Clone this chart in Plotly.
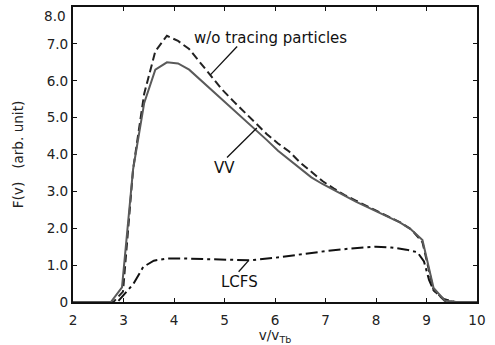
import plotly.graph_objects as go

# VV (solid gray)
vv_x = [2.0, 2.75, 2.97, 3.19, 3.41, 3.63, 3.86, 4.08, 4.30, 4.52, 4.74, 4.96, 5.18, 5.40, 5.62,
        5.84, 6.06, 6.28, 6.50, 6.72, 6.94, 7.16, 7.38, 7.60, 7.82, 8.04, 8.26, 8.48, 8.70,
        8.92, 9.14, 9.36, 9.58, 10.0]
vv_y = [0, 0, 0.40, 3.60, 5.40, 6.30, 6.50, 6.47, 6.30, 6.03, 5.76, 5.48, 5.20, 4.93, 4.66,
        4.39, 4.10, 3.86, 3.61, 3.38, 3.20, 3.04, 2.86, 2.72, 2.58, 2.44, 2.30, 2.15, 1.96,
        1.68, 0.38, 0.04, 0.0, 0.0]

# w/o tracing particles (dashed)
wo_x = [2.0, 2.80, 2.99, 3.19, 3.41, 3.63, 3.86, 4.08, 4.30, 4.52, 4.74, 4.96, 5.18, 5.40, 5.62,
        5.84, 6.06, 6.28, 6.50, 6.72, 6.94, 7.16, 7.38, 7.60, 7.82, 8.04, 8.26, 8.48, 8.70,
        8.92, 9.14, 9.36, 9.58, 10.0]
wo_y = [0, 0, 0.28, 3.60, 5.65, 6.80, 7.22, 7.08, 6.86, 6.48, 6.13, 5.75, 5.44, 5.15, 4.86,
        4.55, 4.30, 4.08, 3.78, 3.52, 3.28, 3.08, 2.90, 2.75, 2.60, 2.45, 2.32, 2.16, 1.97,
        1.62, 0.32, 0.03, 0.0, 0.0]

# LCFS (dash-dot)
lc_x = [2.0, 2.88, 3.20, 3.39, 3.60, 3.86, 4.20, 4.60, 5.00, 5.50, 6.00, 6.50, 7.00, 7.50,
        8.00, 8.30, 8.60, 8.82, 8.95, 9.05, 9.14, 9.34, 9.55, 10.0]
lc_y = [0, 0, 0.50, 0.95, 1.12, 1.18, 1.18, 1.17, 1.15, 1.13, 1.20, 1.30, 1.38, 1.45,
        1.50, 1.48, 1.42, 1.35, 1.10, 0.60, 0.32, 0.08, 0.0, 0.0]

x_ticks = [2, 3, 4, 5, 6, 7, 8, 9, 10]
x_labels = ["2", "3", "4", "5", "6", "7", "8", "9", "10"]
y_ticks = [0, 1, 2, 3, 4, 5, 6, 7, 8]
y_labels = ["0", "1.0", "2.0", "3.0", "4.0", "5.0", "6.0", "7.0", "8.0"]

FONT = "DejaVu Sans"
TICK_FONT = dict(family=FONT, size=13.6, color="#222222")

fig = go.Figure()
fig.add_trace(go.Scatter(x=lc_x, y=lc_y, mode="lines",
                         line=dict(color="#111111", width=2, dash="12px,4px,3px,4px")))
fig.add_trace(go.Scatter(x=wo_x, y=wo_y, mode="lines",
                         line=dict(color="#222222", width=2, dash="8px,4px")))
fig.add_trace(go.Scatter(x=vv_x, y=vv_y, mode="lines",
                         line=dict(color="#5a5a5a", width=2)))

# annotation leader lines
leaders = [
    ((5.25, 6.93), (4.72, 6.16)),
    ((5.05, 3.92), (5.64, 4.72)),
    ((5.28, 0.82), (5.48, 1.13)),
]
for (x0, y0), (x1, y1) in leaders:
    fig.add_shape(type="line", xref="x", yref="y", x0=x0, y0=y0, x1=x1, y1=y1,
                  line=dict(color="#111111", width=1.3))

labels = [("w/o tracing particles", 5.92, 7.17), ("VV", 4.99, 3.63), ("LCFS", 5.29, 0.54)]
for t, x, y in labels:
    fig.add_annotation(text=t, x=x, y=y, xref="x", yref="y", showarrow=False,
                       font=dict(family=FONT, size=15, color="#111111"))

# the top y tick label sits just inside the figure edge, as in the reference
fig.add_annotation(text=y_labels[-1], xref="paper", yref="paper", x=0, y=1,
                   xanchor="right", yanchor="top", xshift=-5, yshift=1,
                   showarrow=False, font=TICK_FONT)

axis_common = dict(showline=True, linewidth=2, linecolor="#111111", mirror="allticks",
                   ticks="inside", ticklen=4, tickwidth=1.3, tickcolor="#111111",
                   showgrid=False, zeroline=False, tickfont=TICK_FONT)

fig.update_layout(
    width=495, height=345,
    margin=dict(l=73, r=18, t=5, b=43),
    paper_bgcolor="white", plot_bgcolor="white",
    showlegend=False,
    xaxis=dict(range=[2, 10], tickvals=x_ticks, ticktext=x_labels, ticklabelstandoff=5,
               title=dict(text="v/v<sub>Tb</sub>", standoff=0,
                          font=dict(family=FONT, size=13.6, color="#222222")),
               **axis_common),
    yaxis=dict(range=[0, 8], tickvals=y_ticks[:-1], ticktext=y_labels[:-1],
               title=dict(text="F(v)\u00a0\u00a0\u00a0(arb. unit)", standoff=20,
                          font=dict(family=FONT, size=13.6, color="#222222")),
               **axis_common),
)

fig.write_html("out.html")
